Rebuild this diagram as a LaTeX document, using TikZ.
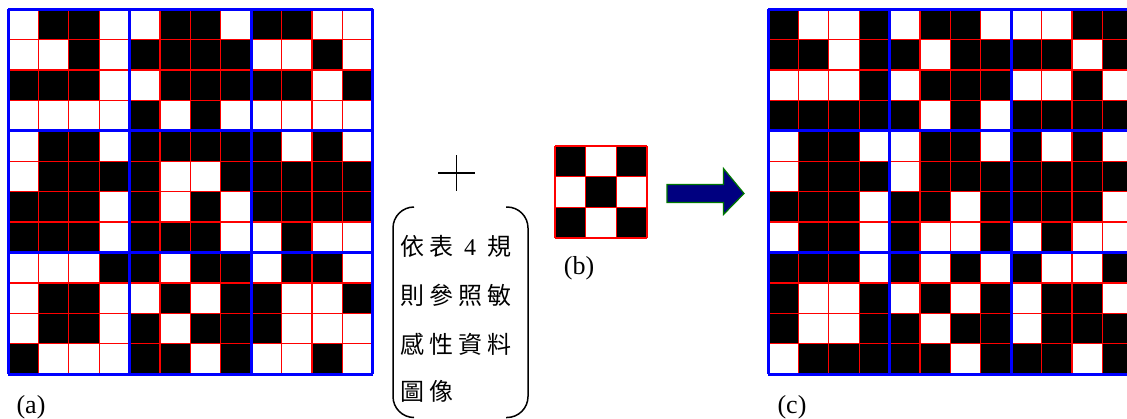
\documentclass[tikz,border=0pt]{standalone}
\usepackage{fontspec}
\setmainfont{Liberation Serif}
\newfontfamily\cjk{Noto Sans CJK TC}
\definecolor{arrowfill}{RGB}{0,0,128}
\definecolor{arrowedge}{RGB}{0,120,0}

% one text cell of the bracketed note
\newcommand\notecell[1]{\makebox[29pt]{#1}}

% 12x12 pixel grid: #1,#2 top-left corner, #3 rows of 0/1, #4 cell size
\newcommand\pixgrid[4]{%
  \foreach \rowdata [count=\r from 0] in {#3} {
    \foreach \v [count=\c from 0] in \rowdata {
      \ifnum\v=1 \fill[black] ({#1+\c*#4},{#2+\r*#4}) rectangle ++(#4,#4);\fi
    }
  }
  \foreach \i in {0,...,12} {
    \draw[cellline] ({#1+\i*#4},#2) -- ++(0,{12*#4});
    \draw[cellline] (#1,{#2+\i*#4}) -- ++({12*#4},0);
  }
  \foreach \i in {0,4,8,12} {
    \draw[blockline] ({#1+\i*#4},#2) -- ++(0,{12*#4});
    \draw[blockline] (#1,{#2+\i*#4}) -- ++({12*#4},0);
  }
}

\tikzset{
  cellline/.style={red, line width=1.3pt},
  blockline/.style={blue, line width=3pt},
  caption/.style={font=\fontsize{26}{26}\selectfont, inner sep=0pt},
  noteline/.style={font=\fontsize{24}{24}\selectfont\cjk, inner sep=0pt, anchor=west},
  bracket/.style={line width=1.5pt, rounded corners=21pt},
}

\begin{document}
\begin{tikzpicture}[x=1pt, y=-1pt]
\useasboundingbox (0,0) rectangle (1127,418);
\clip (0,0) rectangle (1127,418);

% (a) original image
\pixgrid{8}{9.3}{
{0,1,1,0,0,1,1,0,1,1,0,0},
{0,0,1,0,1,1,1,1,0,0,1,0},
{1,1,1,0,0,1,1,1,1,1,0,1},
{0,0,0,0,1,0,1,0,0,0,0,0},
{0,1,1,0,1,1,1,1,1,0,1,0},
{0,1,1,1,1,0,0,1,1,1,1,1},
{1,1,1,0,1,0,1,0,1,1,1,1},
{1,1,1,0,1,1,1,0,0,1,0,0},
{0,0,0,1,1,0,1,1,0,1,1,0},
{0,1,1,0,0,1,0,1,1,0,0,1},
{0,1,1,0,1,0,1,1,1,0,0,0},
{1,0,0,0,1,1,0,1,0,0,1,0}}{30.4}

% (c) result image
\pixgrid{768}{9.3}{
{1,0,0,1,0,1,1,0,0,0,1,1},
{1,1,0,1,1,0,1,1,1,1,0,1},
{0,0,0,1,0,1,1,1,0,0,1,0},
{1,1,1,1,1,0,1,0,1,1,1,1},
{0,1,1,0,0,1,1,0,1,0,1,0},
{0,1,1,1,0,1,1,1,1,1,1,1},
{1,1,1,0,1,1,0,1,1,1,1,0},
{0,1,1,0,1,0,0,1,0,1,0,0},
{1,1,1,0,1,0,1,0,1,0,0,1},
{1,0,0,1,0,1,0,1,0,1,1,0},
{1,0,0,1,1,0,1,1,0,1,1,1},
{0,1,1,1,1,1,0,1,1,1,0,1}}{30.4}

% (b) 3x3 key
\foreach \rowdata [count=\r from 0] in {{1,0,1},{0,1,0},{1,0,1}} {
  \foreach \v [count=\c from 0] in \rowdata {
    \ifnum\v=1 \fill[black] ({555+\c*30.7},{146+\r*30.7}) rectangle ++(30.7,30.7);\fi
  }
}
\foreach \i in {0,...,3} {
  \draw[cellline] ({555+\i*30.7},146) -- ++(0,92.1);
  \draw[cellline] (555,{146+\i*30.7}) -- ++(92.1,0);
}

% plus sign
\coordinate (plusc) at (456.5,173);
\draw[line width=1.4pt] ([xshift=-18.5pt]plusc) -- ([xshift=18.5pt]plusc);
\draw[line width=1.4pt] ([yshift=18pt]plusc) -- ([yshift=-18pt]plusc);

% bracketed note
\draw[bracket] (414,207) -- (393,207) -- (393,417.5) -- (414,417.5);
\draw[bracket] (506,207) -- (528,207) -- (528,417.5) -- (506,417.5);
\node[noteline] (n1) at (397.5,246.5) {\notecell{依}\notecell{表}\notecell{\rmfamily 4}\notecell{規}};
\node[noteline] (n2) at (397.5,295) {\notecell{則}\notecell{參}\notecell{照}\notecell{敏}};
\node[noteline] (n3) at (397.5,344.5) {\notecell{感}\notecell{性}\notecell{資}\notecell{料}};
\node[noteline] (n4) at (397.5,391) {\notecell{圖}\notecell{像}};

% block arrow
\draw[fill=arrowfill, draw=arrowedge, line width=1.2pt, line join=miter]
  (667,184.5) -- (723.5,184.5) -- (723.5,168.5) -- (744,193.5)
  -- (723.5,214.5) -- (723.5,202.5) -- (667,202.5) -- cycle;

% captions
\node[caption] (ca) at (31,407) {(a)};
\node[caption] (cb) at (579,268) {(b)};
\node[caption] (cc) at (792,407) {(c)};
\end{tikzpicture}
\end{document}
